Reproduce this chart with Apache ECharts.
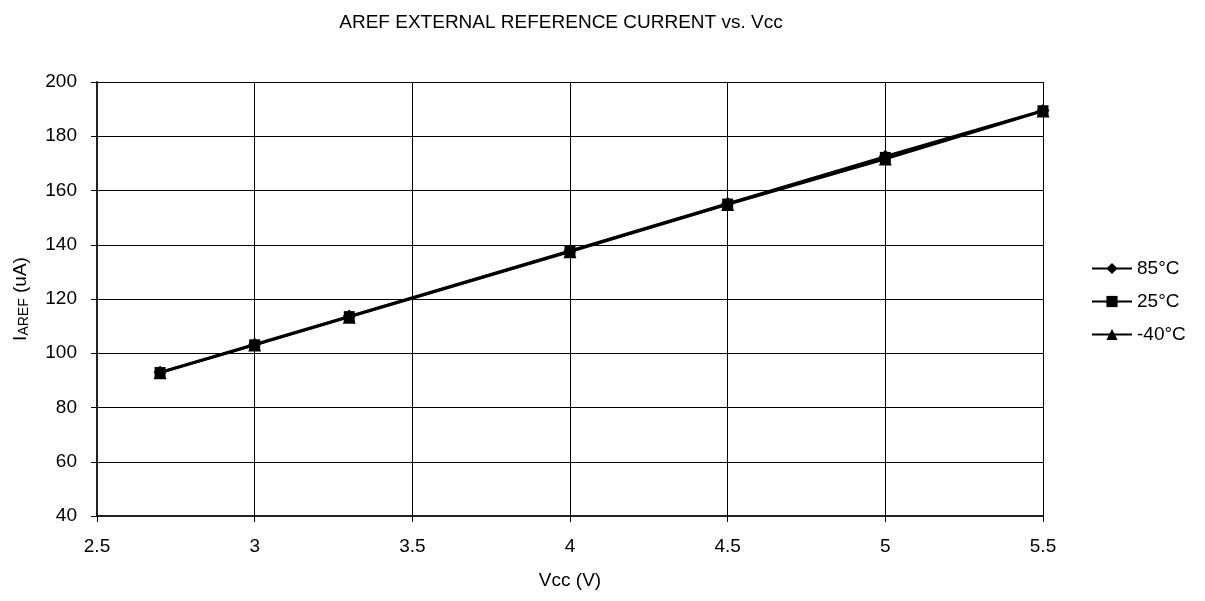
<!DOCTYPE html>
<html>
<head>
<meta charset="utf-8">
<script src="https://cdn.jsdelivr.net/npm/echarts@6/dist/echarts.min.js"></script>
<style>
  html, body { margin: 0; padding: 0; background: #fff; }
  #chart { width: 1205px; height: 601px; }
</style>
</head>
<body>
<div id="chart"></div>
<script>
const vcc = [2.7, 3, 3.3, 4, 4.5, 5, 5.5];
const t85 = [93.0, 103.3, 113.7, 137.8, 155.2, 172.6, 189.5];
const t25 = [92.9, 103.1, 113.5, 137.6, 155.0, 172.2, 189.4];
const tm40 = [92.8, 103.0, 113.3, 137.4, 154.8, 171.6, 189.3];
const seriesNames = ['85°C', '25°C', '-40°C'];
const symbols = ['diamond', 'rect', 'triangle'];

const font = 'Liberation Sans, Arial, sans-serif';
const chart = echarts.init(document.getElementById('chart'));

const mk = (name, vals, sym, size) => ({
  name: name,
  type: 'line',
  data: vcc.map((x, i) => [x, vals[i]]),
  symbol: sym,
  symbolSize: size,
  showSymbol: true,
  lineStyle: { color: '#000', width: 2.5 },
  itemStyle: { color: '#000' },
  animation: false
});

const option = {
  backgroundColor: '#fff',
  title: {
    text: 'AREF EXTERNAL REFERENCE CURRENT vs. Vcc',
    left: 556, top: 8, textAlign: 'center',
    textStyle: { fontFamily: font, fontSize: 19, fontWeight: 'normal', color: '#000' }
  },
  legend: {
    orient: 'vertical',
    left: 1086, top: 254,
    itemWidth: 40, itemHeight: 14, itemGap: 14,
    data: seriesNames,
    textStyle: { fontFamily: font, fontSize: 19, color: '#000' }
  },
  grid: { left: 97, right: 162, top: 82, bottom: 85 },
  xAxis: {
    type: 'value', min: 2.5, max: 5.5, interval: 0.5,
    name: 'Vcc (V)', nameLocation: 'middle', nameGap: 55,
    nameTextStyle: { fontFamily: font, fontSize: 19, color: '#000' },
    axisLine: { lineStyle: { color: '#222', width: 2 } },
    axisTick: { show: true, length: 6, lineStyle: { color: '#000' } },
    axisLabel: { fontFamily: font, fontSize: 19, color: '#000', margin: 21 },
    splitLine: { show: true, lineStyle: { color: '#000', width: 1 } }
  },
  yAxis: {
    type: 'value', min: 40, max: 200, interval: 20,
    name: '{a|I}{b|AREF}{a| (uA)}', nameLocation: 'middle', nameGap: 66,
    nameTextStyle: {
      rich: {
        a: { fontFamily: font, fontSize: 19, color: '#000' },
        b: { fontFamily: font, fontSize: 14, color: '#000', verticalAlign: 'bottom', padding: [6, 0, 0, 0] }
      }
    },
    axisLine: { show: true, lineStyle: { color: '#222', width: 2 } },
    axisTick: { show: true, length: 6, lineStyle: { color: '#000' } },
    axisLabel: { fontFamily: font, fontSize: 19, color: '#000', margin: 20 },
    splitLine: { show: true, lineStyle: { color: '#000', width: 1 } }
  },
  series: [
    mk(seriesNames[0], t85, symbols[0], 13),
    mk(seriesNames[1], t25, symbols[1], 11),
    mk(seriesNames[2], tm40, symbols[2], 13)
  ]
};

chart.setOption(option);
window.addEventListener('resize', function () {
  chart.resize();
});
</script>
</body>
</html>
